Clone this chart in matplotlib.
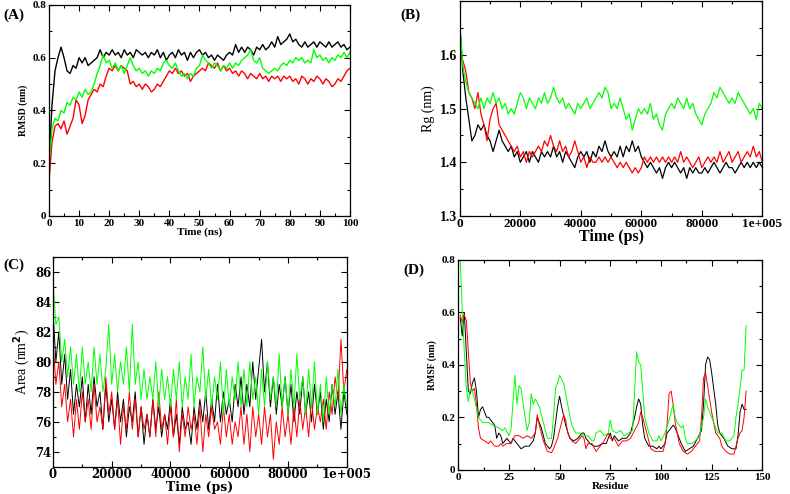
import numpy as np
import matplotlib
matplotlib.use("Agg")
import matplotlib.pyplot as plt
from matplotlib.ticker import MultipleLocator

plt.rcParams["font.family"] = ["Liberation Serif", "DejaVu Serif"]
plt.rcParams["font.weight"] = "bold"

# (A) RMSD, tempo em ns (1 ponto por ns)
tempo_ns = list(range(0, 101))
rmsd_preto = [0.20, 0.42, 0.55, 0.60, 0.64, 0.60, 0.55, 0.54, 0.57, 0.56, 0.60,
              0.58, 0.60, 0.57, 0.58, 0.59, 0.60, 0.63, 0.60, 0.62, 0.61,
              0.63, 0.61, 0.62, 0.60, 0.63, 0.61, 0.62, 0.60, 0.63, 0.62,
              0.61, 0.62, 0.60, 0.62, 0.61, 0.63, 0.60, 0.62, 0.59, 0.61,
              0.62, 0.60, 0.63, 0.61, 0.62, 0.59, 0.62, 0.60, 0.62, 0.63,
              0.61, 0.62, 0.60, 0.61, 0.59, 0.61, 0.60, 0.59, 0.61, 0.62,
              0.61, 0.65, 0.62, 0.64, 0.62, 0.64, 0.63, 0.61, 0.64, 0.63,
              0.65, 0.63, 0.64, 0.66, 0.64, 0.68, 0.65, 0.66, 0.67, 0.69,
              0.66, 0.67, 0.65, 0.64, 0.66, 0.64, 0.65, 0.66, 0.64, 0.66,
              0.65, 0.64, 0.66, 0.64, 0.65, 0.66, 0.64, 0.65, 0.63, 0.64]
rmsd_vermelho = [0.13, 0.28, 0.34, 0.35, 0.33, 0.36, 0.31, 0.34, 0.37, 0.44, 0.42,
                 0.35, 0.38, 0.44, 0.46, 0.48, 0.47, 0.50, 0.49, 0.53, 0.56,
                 0.55, 0.57, 0.55, 0.57, 0.56, 0.55, 0.50, 0.51, 0.49, 0.50,
                 0.48, 0.50, 0.49, 0.47, 0.48, 0.50, 0.49, 0.51, 0.53, 0.55,
                 0.54, 0.56, 0.54, 0.55, 0.53, 0.54, 0.51, 0.53, 0.54, 0.55,
                 0.56, 0.55, 0.58, 0.57, 0.56, 0.58, 0.55, 0.57, 0.55, 0.56,
                 0.54, 0.55, 0.53, 0.55, 0.54, 0.52, 0.54, 0.53, 0.52, 0.54,
                 0.52, 0.53, 0.51, 0.53, 0.52, 0.53, 0.51, 0.53, 0.52, 0.53,
                 0.51, 0.52, 0.50, 0.53, 0.52, 0.50, 0.52, 0.51, 0.53, 0.52,
                 0.50, 0.52, 0.51, 0.49, 0.50, 0.52, 0.51, 0.53, 0.55, 0.56]
rmsd_verde = [0.20, 0.33, 0.37, 0.36, 0.40, 0.39, 0.43, 0.42, 0.45, 0.44, 0.47,
              0.45, 0.48, 0.46, 0.47, 0.50, 0.54, 0.57, 0.61, 0.58, 0.59,
              0.56, 0.58, 0.55, 0.57, 0.54, 0.57, 0.60, 0.57, 0.55, 0.56,
              0.54, 0.55, 0.53, 0.55, 0.54, 0.56, 0.55, 0.58, 0.59, 0.57,
              0.56, 0.58, 0.55, 0.53, 0.54, 0.52, 0.54, 0.53, 0.56, 0.57,
              0.61, 0.59, 0.58, 0.56, 0.58, 0.57, 0.55, 0.57, 0.56, 0.58,
              0.56, 0.58, 0.57, 0.59, 0.60, 0.61, 0.63, 0.59, 0.58, 0.60,
              0.56, 0.55, 0.54, 0.55, 0.56, 0.55, 0.57, 0.58, 0.57, 0.59,
              0.58, 0.60, 0.59, 0.60, 0.58, 0.59, 0.58, 0.63, 0.60, 0.61,
              0.59, 0.60, 0.58, 0.60, 0.59, 0.61, 0.60, 0.62, 0.60, 0.62]

# (B) Rg, tempo em ps (1 ponto a cada 1000 ps)
tempo_ps = [i * 1000 for i in range(0, 101)]
rg_preto = [1.66, 1.57, 1.52, 1.48, 1.44, 1.45, 1.47, 1.46, 1.47, 1.45, 1.44,
            1.42, 1.44, 1.46, 1.44, 1.43, 1.42, 1.43, 1.41, 1.42, 1.40,
            1.41, 1.42, 1.40, 1.42, 1.41, 1.40, 1.42, 1.41, 1.42, 1.41,
            1.43, 1.41, 1.42, 1.40, 1.42, 1.41, 1.40, 1.39, 1.41, 1.42,
            1.41, 1.42, 1.40, 1.42, 1.41, 1.43, 1.42, 1.44, 1.42, 1.41,
            1.42, 1.41, 1.43, 1.41, 1.43, 1.42, 1.44, 1.42, 1.43, 1.41,
            1.40, 1.39, 1.40, 1.39, 1.38, 1.39, 1.37, 1.39, 1.40, 1.39,
            1.40, 1.39, 1.38, 1.39, 1.37, 1.39, 1.38, 1.39, 1.38, 1.38,
            1.39, 1.38, 1.39, 1.40, 1.39, 1.38, 1.39, 1.40, 1.39, 1.39,
            1.38, 1.39, 1.40, 1.39, 1.40, 1.39, 1.40, 1.39, 1.40, 1.39]
rg_vermelho = [1.60, 1.59, 1.57, 1.53, 1.52, 1.50, 1.53, 1.49, 1.47, 1.44, 1.48,
               1.50, 1.51, 1.47, 1.46, 1.45, 1.44, 1.43, 1.42, 1.43, 1.41,
               1.42, 1.40, 1.42, 1.41, 1.42, 1.43, 1.42, 1.44, 1.43, 1.45,
               1.43, 1.42, 1.44, 1.42, 1.43, 1.41, 1.42, 1.44, 1.42, 1.40,
               1.41, 1.39, 1.41, 1.40, 1.40, 1.41, 1.40, 1.41, 1.40, 1.41,
               1.40, 1.39, 1.40, 1.39, 1.40, 1.39, 1.38, 1.39, 1.38, 1.39,
               1.41, 1.40, 1.41, 1.40, 1.41, 1.40, 1.41, 1.40, 1.41, 1.40,
               1.41, 1.40, 1.42, 1.40, 1.41, 1.40, 1.39, 1.40, 1.41, 1.39,
               1.40, 1.41, 1.40, 1.41, 1.40, 1.42, 1.40, 1.41, 1.42, 1.40,
               1.41, 1.42, 1.40, 1.41, 1.42, 1.41, 1.43, 1.41, 1.42, 1.40]
rg_verde = [1.66, 1.58, 1.55, 1.53, 1.52, 1.51, 1.50, 1.52, 1.50, 1.52, 1.51,
            1.53, 1.51, 1.52, 1.50, 1.51, 1.49, 1.50, 1.49, 1.51, 1.53,
            1.52, 1.50, 1.52, 1.51, 1.50, 1.52, 1.51, 1.53, 1.51, 1.52,
            1.54, 1.52, 1.51, 1.52, 1.50, 1.51, 1.50, 1.49, 1.51, 1.50,
            1.51, 1.52, 1.50, 1.51, 1.52, 1.53, 1.52, 1.54, 1.53, 1.50,
            1.51, 1.50, 1.52, 1.50, 1.48, 1.49, 1.46, 1.48, 1.50, 1.49,
            1.50, 1.49, 1.51, 1.48, 1.49, 1.47, 1.46, 1.49, 1.50, 1.51,
            1.50, 1.52, 1.51, 1.50, 1.52, 1.50, 1.51, 1.49, 1.48, 1.47,
            1.49, 1.50, 1.51, 1.53, 1.52, 1.54, 1.53, 1.52, 1.51, 1.52,
            1.51, 1.53, 1.52, 1.51, 1.50, 1.49, 1.50, 1.48, 1.51, 1.50]

# (C) Area (SASA), mesmo eixo de tempo que (B)
area_preto = [83.5, 80.0, 82.0, 78.5, 80.5, 77.5, 79.5, 76.5, 78.5, 77.0, 79.0,
              76.0, 78.5, 76.5, 79.0, 77.0, 78.0, 75.5, 78.5, 76.0, 77.5,
              75.5, 78.0, 76.0, 77.5, 75.0, 77.0, 76.0, 78.0, 75.0, 77.0,
              74.5, 76.5, 75.0, 77.5, 75.5, 77.0, 75.0, 76.5, 75.5, 77.5,
              75.0, 76.5, 74.5, 77.0, 75.5, 76.0, 74.5, 77.0, 75.5, 77.5,
              76.0, 78.0, 75.5, 77.5, 76.0, 78.5, 76.0, 78.0, 76.5, 77.5,
              76.0, 78.5, 77.0, 79.0, 76.5, 78.5, 77.0, 80.0, 77.5, 79.5,
              81.5, 78.0, 80.0, 77.0, 79.0, 76.5, 78.5, 77.0, 79.0, 76.5,
              78.5, 76.0, 78.0, 76.5, 79.0, 76.5, 78.0, 76.0, 78.5, 76.5,
              78.0, 75.5, 77.5, 76.0, 78.5, 76.5, 78.0, 75.5, 78.0, 76.5]
area_vermelho = [81.5, 78.5, 80.0, 77.0, 78.5, 76.0, 77.5, 75.0, 77.5, 75.5, 78.0,
                 76.0, 77.5, 75.5, 78.5, 76.0, 77.0, 75.5, 79.0, 76.5, 78.0,
                 75.5, 77.5, 74.5, 77.0, 75.5, 78.0, 75.5, 77.5, 75.0, 77.0,
                 75.5, 76.5, 75.0, 77.5, 75.0, 78.0, 75.5, 76.5, 74.5, 77.0,
                 75.0, 77.5, 74.0, 76.5, 75.0, 77.0, 75.5, 76.5, 74.5, 77.0,
                 74.0, 76.5, 75.0, 77.0, 75.5, 76.0, 74.5, 77.0, 75.0, 76.5,
                 74.5, 76.0, 75.0, 77.0, 74.5, 76.5, 74.0, 77.0, 75.0, 76.5,
                 74.5, 77.0, 75.0, 76.5, 73.5, 76.0, 74.5, 77.0, 75.0, 76.5,
                 74.5, 77.0, 75.0, 77.5, 75.5, 77.0, 75.0, 77.5, 75.5, 77.0,
                 76.0, 77.5, 75.5, 78.0, 76.5, 79.0, 77.5, 81.5, 78.0, 79.5]
area_verde = [85.5, 82.5, 83.0, 80.0, 81.5, 79.0, 81.0, 78.5, 80.5, 78.0, 81.0,
              78.5, 80.0, 78.0, 81.0, 78.5, 80.5, 78.0, 79.5, 82.5, 78.5,
              80.5, 78.0, 80.0, 78.5, 81.0, 78.0, 82.5, 78.5, 80.0, 77.5,
              79.5, 77.5, 79.0, 77.5, 80.0, 77.0, 79.5, 77.5, 79.0, 77.0,
              79.5, 77.5, 80.0, 77.0, 79.0, 77.5, 80.5, 77.0, 79.0, 78.0,
              81.0, 77.5, 79.5, 77.0, 79.0, 77.5, 80.0, 76.5, 79.5, 77.0,
              79.0, 77.5, 80.0, 77.0, 79.5, 77.0, 80.0, 77.5, 79.0, 76.5,
              79.5, 77.0, 80.0, 77.5, 79.0, 77.0, 80.5, 77.0, 79.0, 76.5,
              79.5, 77.0, 80.5, 77.5, 79.0, 76.5, 79.5, 77.0, 80.0, 76.5,
              78.5, 76.0, 79.0, 76.5, 78.5, 77.0, 79.5, 76.5, 78.5, 77.0]

# (D) RMSF por residuo
res_preto = [1, 2, 3, 4, 5, 6, 7, 8, 9, 10, 11, 12, 13, 14, 15, 16, 18, 19, 20, 21, 22, 24,
             26, 27, 29, 31, 33, 35, 37, 38, 39, 41, 43, 45, 46, 47, 48, 49, 50, 51, 53, 55,
             57, 59, 61, 62, 63, 65, 67, 69, 71, 73, 75, 76, 77, 79, 81, 83, 85, 87, 88,
             89, 90, 91, 92, 94, 96, 98, 99, 100, 102, 103, 104, 106, 107, 109, 110, 112,
             114, 116, 118, 120, 121, 122, 123, 124, 125, 127, 128, 129, 131, 133, 135,
             137, 138, 139, 140, 141, 142]
rmsf_preto = [0.58, 0.51, 0.60, 0.45, 0.30, 0.29, 0.33, 0.35, 0.30, 0.20, 0.23, 0.24, 0.22,
              0.20, 0.20, 0.19, 0.17, 0.12, 0.14, 0.13, 0.10, 0.12, 0.10, 0.12, 0.10, 0.08,
              0.09, 0.09, 0.11, 0.14, 0.20, 0.16, 0.10, 0.08, 0.09, 0.12, 0.18, 0.24, 0.28,
              0.24, 0.17, 0.12, 0.11, 0.12, 0.14, 0.14, 0.12, 0.10, 0.09, 0.09, 0.10, 0.10,
              0.14, 0.11, 0.13, 0.11, 0.12, 0.12, 0.14, 0.20, 0.24, 0.27, 0.25, 0.17, 0.12,
              0.09, 0.09, 0.08, 0.09, 0.08, 0.10, 0.14, 0.15, 0.17, 0.16, 0.12, 0.10, 0.07,
              0.08, 0.09, 0.12, 0.15, 0.25, 0.40, 0.43, 0.42, 0.37, 0.25, 0.17, 0.14, 0.12,
              0.09, 0.08, 0.08, 0.13, 0.22, 0.25, 0.23, 0.23]
res_vermelho = [1, 2, 3, 4, 5, 6, 7, 8, 9, 10, 11, 13, 15, 16, 18, 20, 21, 22, 24, 26, 28,
                30, 32, 34, 36, 38, 39, 40, 42, 44, 46, 47, 49, 51, 52, 53, 54, 56, 58, 60,
                61, 62, 63, 64, 66, 68, 70, 72, 74, 75, 77, 79, 81, 83, 85, 87, 89, 90, 91,
                93, 95, 97, 99, 101, 102, 103, 104, 105, 106, 107, 109, 111, 113, 115, 117,
                119, 120, 121, 122, 123, 125, 127, 129, 130, 132, 134, 136, 137, 138, 139,
                140, 141, 142]
rmsf_vermelho = [0.59, 0.56, 0.59, 0.57, 0.45, 0.33, 0.30, 0.31, 0.25, 0.16, 0.12, 0.11,
                 0.10, 0.11, 0.09, 0.09, 0.10, 0.09, 0.10, 0.10, 0.13, 0.13, 0.12, 0.13,
                 0.12, 0.14, 0.21, 0.17, 0.11, 0.07, 0.065, 0.08, 0.12, 0.18, 0.21, 0.19,
                 0.14, 0.11, 0.10, 0.12, 0.13, 0.12, 0.08, 0.10, 0.10, 0.07, 0.09, 0.11,
                 0.14, 0.12, 0.12, 0.09, 0.11, 0.11, 0.12, 0.15, 0.18, 0.22, 0.20, 0.14,
                 0.08, 0.07, 0.07, 0.07, 0.10, 0.17, 0.29, 0.30, 0.25, 0.18, 0.10, 0.07,
                 0.06, 0.07, 0.09, 0.11, 0.20, 0.35, 0.37, 0.32, 0.22, 0.14, 0.12, 0.09,
                 0.07, 0.06, 0.06, 0.09, 0.12, 0.14, 0.15, 0.20, 0.30]
res_verde = [1, 2, 3, 4, 5, 6, 7, 8, 10, 12, 15, 17, 20, 22, 23, 25, 26, 28, 29, 30, 31,
             33, 34, 35, 36, 37, 38, 40, 42, 44, 46, 47, 48, 49, 50, 52, 54, 56, 58, 60,
             62, 64, 66, 67, 68, 70, 72, 74, 75, 76, 78, 80, 82, 84, 86, 87, 88, 89, 90,
             91, 92, 94, 96, 98, 99, 100, 102, 104, 106, 107, 108, 110, 111, 112, 113,
             115, 117, 119, 121, 122, 123, 125, 127, 128, 130, 132, 134, 136, 137, 138,
             139, 140, 141, 142]
rmsf_verde = [0.80, 0.61, 0.45, 0.31, 0.26, 0.31, 0.30, 0.27, 0.20, 0.18, 0.18, 0.17,
              0.16, 0.15, 0.16, 0.13, 0.15, 0.36, 0.25, 0.32, 0.31, 0.20, 0.15, 0.18,
              0.29, 0.25, 0.27, 0.24, 0.18, 0.12, 0.12, 0.20, 0.31, 0.33, 0.36, 0.33,
              0.25, 0.17, 0.14, 0.14, 0.13, 0.13, 0.11, 0.11, 0.14, 0.15, 0.13, 0.14,
              0.19, 0.15, 0.14, 0.15, 0.13, 0.14, 0.15, 0.30, 0.45, 0.41, 0.40, 0.30,
              0.20, 0.14, 0.11, 0.11, 0.13, 0.11, 0.14, 0.19, 0.25, 0.20, 0.18, 0.16,
              0.17, 0.12, 0.10, 0.10, 0.11, 0.13, 0.20, 0.27, 0.24, 0.20, 0.16, 0.14,
              0.14, 0.11, 0.11, 0.13, 0.20, 0.25, 0.31, 0.38, 0.38, 0.55]

VERDE = "#00ff00"
VERMELHO = "#ff0000"
LARGA = "DejaVu Serif"   # fonte mais larga para os paineis esticados


def estilo(ax, maior_x, menor_x, maior_y, menor_y, tam, pad=2):
    ax.xaxis.set_major_locator(MultipleLocator(maior_x))
    ax.xaxis.set_minor_locator(MultipleLocator(menor_x))
    ax.yaxis.set_major_locator(MultipleLocator(maior_y))
    ax.yaxis.set_minor_locator(MultipleLocator(menor_y))
    ax.tick_params(which="both", direction="in", top=True, right=True, width=0.8)
    ax.tick_params(which="major", length=4, labelsize=tam, pad=pad)
    ax.tick_params(which="minor", length=2)
    for s in ax.spines.values():
        s.set_linewidth(0.9)


def rotulos(ax, eixo, valores, textos, tam, fam=None):
    kw = dict(fontweight="bold", fontsize=tam)
    if fam:
        kw["family"] = fam
    if eixo == "x":
        ax.set_xticks(valores)
        ax.set_xticklabels(textos, **kw)
    else:
        ax.set_yticks(valores)
        ax.set_yticklabels(textos, **kw)


fig = plt.figure(figsize=(7.9, 4.94), dpi=100)

# (A)
axA = fig.add_axes([0.062, 0.563, 0.381, 0.427])
axA.plot(tempo_ns, rmsd_preto, color="black", lw=1.0)
axA.plot(tempo_ns, rmsd_vermelho, color=VERMELHO, lw=1.0)
axA.plot(tempo_ns, rmsd_verde, color=VERDE, lw=1.0)
estilo(axA, 10, 5, 0.2, 0.1, 8)
rotulos(axA, "x", list(range(0, 101, 10)), [str(v) for v in range(0, 101, 10)], 8)
rotulos(axA, "y", [0, 0.2, 0.4, 0.6, 0.8], ["0", "0.2", "0.4", "0.6", "0.8"], 8)
axA.set_xlim(0, 100)
axA.set_ylim(0, 0.8)
axA.set_xlabel("Time (ns)", fontsize=8, fontweight="bold", labelpad=0)
axA.set_ylabel("RMSD (nm)", fontsize=7, fontweight="bold", labelpad=3)
fig.text(0.004, 0.97, "(A)", fontsize=11, fontweight="bold", va="center")

# (B)
axB = fig.add_axes([0.582, 0.563, 0.383, 0.434])
axB.plot(tempo_ps, rg_preto, color="black", lw=0.9)
axB.plot(tempo_ps, rg_vermelho, color=VERMELHO, lw=0.9)
axB.plot(tempo_ps, rg_verde, color=VERDE, lw=0.9)
estilo(axB, 20000, 10000, 0.1, 0.05, 9.5, pad=1.5)
rotulos(axB, "x", [0, 20000, 40000, 60000, 80000, 100000],
        ["0", "20000", "40000", "60000", "80000", "1e+005"], 9.5)
rotulos(axB, "y", [1.3, 1.4, 1.5, 1.6], ["1.3", "1.4", "1.5", "1.6"], 10)
axB.set_xlim(0, 100000)
axB.set_ylim(1.3, 1.7)
axB.set_xlabel("Time (ps)", fontsize=11.5, fontweight="bold", labelpad=-1)
axB.set_ylabel("Rg (nm)", fontsize=10, fontweight="normal", labelpad=4)
fig.text(0.507, 0.97, "(B)", fontsize=11, fontweight="bold", va="center")

# (C)
axC = fig.add_axes([0.067, 0.055, 0.372, 0.425])
axC.plot(tempo_ps, area_preto, color="black", lw=0.7)
axC.plot(tempo_ps, area_vermelho, color=VERMELHO, lw=0.7)
axC.plot(tempo_ps, area_verde, color=VERDE, lw=0.7)
estilo(axC, 20000, 10000, 2, 1, 8.5, pad=1)
rotulos(axC, "x", [0, 20000, 40000, 60000, 80000, 100000],
        ["0", "20000", "40000", "60000", "80000", "1e+005"], 8.5, LARGA)
rotulos(axC, "y", [74, 76, 78, 80, 82, 84, 86], ["74", "76", "78", "80", "82", "84", "86"],
        8.5, LARGA)
axC.set_xlim(0, 100000)
axC.set_ylim(73, 87)
axC.set_xlabel("Time (ps)", fontsize=9, fontweight="bold", family=LARGA, labelpad=0)
axC.set_ylabel("Area (nm$^{2}$)", fontsize=10, fontweight="normal", labelpad=2)
fig.text(0.004, 0.463, "(C)", fontsize=11, fontweight="bold", va="center")

# (D)
axD = fig.add_axes([0.580, 0.049, 0.385, 0.425])
axD.plot(res_preto, rmsf_preto, color="black", lw=0.7)
axD.plot(res_vermelho, rmsf_vermelho, color=VERMELHO, lw=0.7)
axD.plot(res_verde, rmsf_verde, color=VERDE, lw=0.7)
estilo(axD, 25, 12.5, 0.2, 0.1, 8)
rotulos(axD, "x", [0, 25, 50, 75, 100, 125, 150],
        ["0", "25", "50", "75", "100", "125", "150"], 8)
rotulos(axD, "y", [0, 0.2, 0.4, 0.6, 0.8], ["0", "0.2", "0.4", "0.6", "0.8"], 8)
axD.set_xlim(0, 150)
axD.set_ylim(0, 0.8)
axD.set_xlabel("Residue", fontsize=8, fontweight="bold", labelpad=0)
axD.set_ylabel("RMSF (nm)", fontsize=7, fontweight="bold", labelpad=3)
fig.text(0.511, 0.452, "(D)", fontsize=11, fontweight="bold", va="center")

fig.savefig("out.png", dpi=100)
